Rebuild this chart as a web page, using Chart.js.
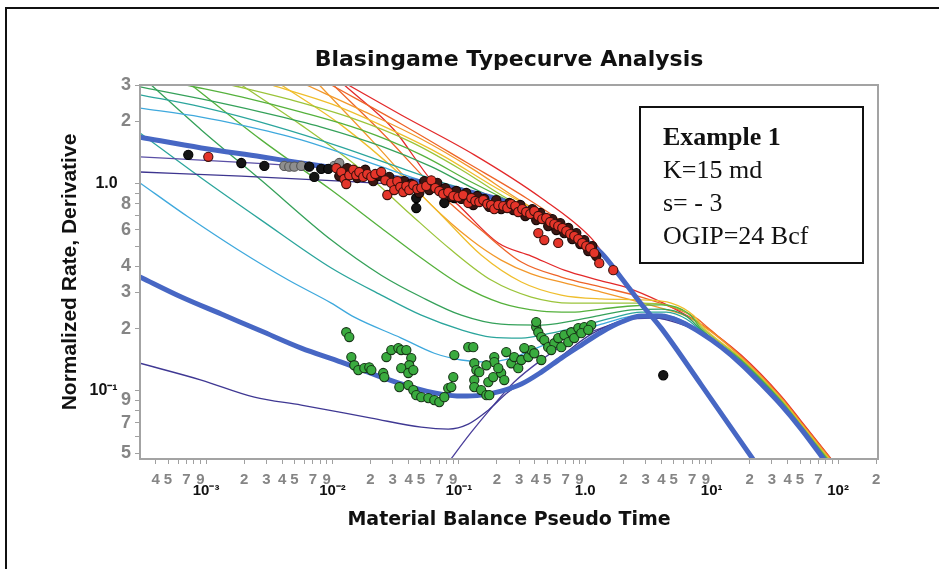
<!DOCTYPE html>
<html>
<head>
<meta charset="utf-8">
<title>Blasingame Typecurve Analysis</title>
<script src="https://cdn.jsdelivr.net/npm/chart.js@4.4.0/dist/chart.umd.min.js"></script>
<style>
    html, body { margin: 0; padding: 0; background: #fff; }
    #wrap { position: relative; width: 939px; height: 569px; overflow: hidden; }
    #frame { position: absolute; left: 5px; top: 7px; right: -10px; bottom: -10px;
             border-top: 2px solid #111; border-left: 2px solid #111; pointer-events: none; }
    canvas { position: absolute; left: 0; top: 0; }
</style>
</head>
<body>
<div id="wrap">
    <canvas id="typecurveChart" width="939" height="569"></canvas>
    <div id="frame"></div>
</div>
<script>
// Axis ticks
const xTickValues = [4e-4, 5e-4, 6e-4, 7e-4, 8e-4, 9e-4, 1e-3, 2e-3, 3e-3, 4e-3, 5e-3, 6e-3, 7e-3, 8e-3, 9e-3,
    1e-2, 0.02, 0.03, 0.04, 0.05, 0.06, 0.07, 0.08, 0.09, 0.1, 0.2, 0.3, 0.4, 0.5, 0.6, 0.7, 0.8, 0.9,
    1, 2, 3, 4, 5, 6, 7, 8, 9, 10, 20, 30, 40, 50, 60, 70, 80, 90, 100, 200];
const xTickLabels = ['4', '5', '', '7', '', '9', '10⁻³', '2', '3', '4', '5', '', '7', '', '9',
    '10⁻²', '2', '3', '4', '5', '', '7', '', '9', '10⁻¹', '2', '3', '4', '5', '', '7', '', '9',
    '1.0', '2', '3', '4', '5', '', '7', '', '9', '10¹', '2', '3', '4', '5', '', '7', '', '', '10²', '2'];
const yTickValues = [0.05, 0.06, 0.07, 0.08, 0.09, 0.1, 0.2, 0.3, 0.4, 0.5, 0.6, 0.7, 0.8, 0.9, 1, 2, 3];
const yTickLabels = ['5', '', '7', '', '9', '10⁻¹', '2', '3', '4', '', '6', '', '8', '', '1.0', '2', '3'];

const noteLines = ['Example 1', 'K=15 md', 's= - 3', 'OGIP=24 Bcf'];

// Fitted typecurves (thick blue)
const fitRate = [[3.0e-4, 1.68], [9.16e-4, 1.49], [2.73e-3, 1.35], [5.66e-3, 1.26], [0.01175, 1.18], [0.0243, 1.10],
    [0.0504, 1.02], [0.1045, 0.933], [0.216, 0.835], [0.312, 0.773], [0.449, 0.707], [0.646, 0.632], [0.930, 0.547],
    [1.34, 0.463], [1.93, 0.351], [2.77, 0.263], [3.99, 0.201], [8.27, 0.107], [22.9, 0.0438]];
const fitDeriv = [[3.0e-4, 0.355], [6.37e-4, 0.284], [1.32e-3, 0.235], [2.73e-3, 0.1945], [5.66e-3, 0.161],
    [0.01175, 0.1377], [0.0243, 0.1166], [0.042, 0.1043], [0.0726, 0.0965], [0.1045, 0.0944], [0.150, 0.0954],
    [0.216, 0.0998], [0.312, 0.1079], [0.449, 0.1232], [0.646, 0.144], [0.930, 0.1665], [1.34, 0.192], [1.93, 0.215],
    [2.77, 0.2298], [3.99, 0.2298], [5.75, 0.215], [8.27, 0.190], [11.9, 0.1627], [17.1, 0.1347], [24.7, 0.1079],
    [35.5, 0.0854], [51.1, 0.0654], [82.2, 0.0443]];

// Rate integral curves (upper family)
const intPurpleA = [[3.0e-4, 1.14], [1.9e-3, 1.09], [0.01175, 1.03], [0.0504, 0.976], [0.1045, 0.923], [0.216, 0.835],
    [0.449, 0.707], [0.930, 0.547], [1.34, 0.463]];
const intPurpleB = [[3.0e-4, 1.35], [1.9e-3, 1.27], [6.43e-3, 1.21], [0.0169, 1.14], [0.0504, 1.03], [0.1045, 0.944],
    [0.216, 0.835], [0.449, 0.707], [0.930, 0.547], [1.34, 0.463]];
const intLightBlue = [[3.0e-4, 2.32], [9.16e-4, 2.10], [1.9e-3, 1.92], [5.66e-3, 1.63], [0.01175, 1.41], [0.0243, 1.21],
    [0.0504, 1.04], [0.0871, 0.954], [0.216, 0.835], [0.449, 0.707], [0.930, 0.547], [1.34, 0.463]];
const intTeal = [[3.0e-4, 2.69], [9.16e-4, 2.35], [3.47e-3, 1.90], [0.01175, 1.505], [0.035, 1.19], [0.0726, 1.02],
    [0.1254, 0.923], [0.216, 0.835], [0.449, 0.707], [0.930, 0.547], [1.34, 0.463]];
const intGreen = [[3.0e-4, 2.94], [9.16e-4, 2.57], [2.73e-3, 2.22], [8.15e-3, 1.88], [0.0243, 1.52], [0.0605, 1.21],
    [0.150, 0.913], [0.26, 0.808], [0.449, 0.707], [0.930, 0.547], [1.34, 0.463]];
const intGreen2 = [[6.97e-4, 3.0], [1.9e-3, 2.63], [5.66e-3, 2.22], [0.0169, 1.82], [0.0504, 1.38], [0.1254, 1.02],
    [0.312, 0.773], [0.646, 0.632], [0.930, 0.547], [1.34, 0.463]];
const intYellowGreen = [[1.58e-3, 3.0], [4.72e-3, 2.54], [0.0141, 2.08], [0.042, 1.59], [0.1045, 1.17], [0.237, 0.854],
    [0.449, 0.707], [0.930, 0.547], [1.34, 0.463]];
const intYellow = [[3.28e-3, 3.0], [9.79e-3, 2.43], [0.0292, 1.82], [0.0726, 1.38], [0.180, 0.987], [0.374, 0.764],
    [0.646, 0.632], [0.930, 0.547], [1.34, 0.463]];
const intOrange = [[6.21e-3, 3.0], [0.0169, 2.27], [0.0504, 1.646], [0.1254, 1.19], [0.2845, 0.854], [0.646, 0.625],
    [1.018, 0.524], [1.34, 0.463]];
const intOrangeRed = [[9.79e-3, 3.0], [0.035, 1.945], [0.1144, 1.27], [0.341, 0.854], [0.849, 0.585], [1.34, 0.463]];
const intRed = [[0.01333, 3.0], [0.035, 2.15], [0.1324, 1.38], [0.449, 0.854], [1.115, 0.547], [1.466, 0.438]];

// Rate integral derivative curves (lower family)
const derivPurple = [[3.0e-4, 0.136], [9.16e-4, 0.1128], [2.41e-3, 0.0933], [5.66e-3, 0.0854], [0.0203, 0.0739],
    [0.0504, 0.0668], [0.0824, 0.0654], [0.1187, 0.0691], [0.171, 0.0807], [0.246, 0.0987], [0.374, 0.1153],
    [0.646, 0.1473], [1.115, 0.188], [1.93, 0.2175], [3.04, 0.227], [4.79, 0.2175], [8.27, 0.190], [17.1, 0.1347],
    [35.5, 0.0854], [51.1, 0.0654], [82.2, 0.0443]];
const derivSteep = [[0.0795, 0.0438], [0.1254, 0.0632], [0.180, 0.0826], [0.274, 0.1103], [0.449, 0.141],
    [0.775, 0.176], [1.34, 0.201], [2.11, 0.220], [3.33, 0.2247], [5.75, 0.215], [8.27, 0.190], [17.1, 0.1347],
    [35.5, 0.0854], [51.1, 0.0654], [82.2, 0.0443]];
const derivLightBlue = [[3.0e-4, 1.01], [7.23e-4, 0.691], [1.80e-3, 0.479], [4.47e-3, 0.343], [9.79e-3, 0.2655],
    [0.01488, 0.227], [0.035, 0.180], [0.0639, 0.152], [0.1045, 0.141], [0.165, 0.1377], [0.26, 0.144], [0.449, 0.1646],
    [0.775, 0.188], [1.34, 0.210], [2.31, 0.2298], [3.65, 0.235], [5.75, 0.220], [8.27, 0.192], [17.1, 0.136],
    [35.5, 0.0863], [51.1, 0.0661], [83.6, 0.0443]];
const derivTeal = [[3.0e-4, 1.76], [9.16e-4, 1.067], [2.73e-3, 0.668], [9.79e-3, 0.392], [0.0243, 0.290], [0.0504, 0.232],
    [0.1045, 0.197], [0.180, 0.182], [0.312, 0.180], [0.538, 0.190], [0.930, 0.2056], [1.606, 0.2247], [2.77, 0.240],
    [4.37, 0.240], [6.30, 0.2224], [8.27, 0.1945], [17.1, 0.1377], [35.5, 0.0873], [51.1, 0.0661], [85.2, 0.0443]];
const derivGreen = [[3.68e-4, 3.0], [9.16e-4, 1.82], [2.73e-3, 1.04], [9.79e-3, 0.535], [0.0243, 0.362], [0.0504, 0.284],
    [0.1045, 0.232], [0.216, 0.210], [0.449, 0.208], [0.775, 0.2175], [1.34, 0.232], [2.31, 0.246], [3.99, 0.2485],
    [6.30, 0.2298], [8.27, 0.197], [17.1, 0.139], [35.5, 0.0883], [51.1, 0.0668], [86.8, 0.0443]];
const derivGreen2 = [[7.64e-4, 3.0], [2.73e-3, 1.63], [9.79e-3, 0.933], [0.0243, 0.612], [0.0504, 0.438], [0.1045, 0.324],
    [0.216, 0.2655], [0.449, 0.243], [0.775, 0.240], [1.34, 0.2485], [2.31, 0.257], [3.99, 0.260], [6.65, 0.235],
    [8.27, 0.199], [17.1, 0.141], [35.5, 0.0892], [51.1, 0.0676], [88.3, 0.0443]];
const derivYellowGreen = [[1.9e-3, 3.0], [5.66e-3, 1.92], [0.0169, 1.17], [0.042, 0.707], [0.0871, 0.479], [0.180, 0.343],
    [0.374, 0.284], [0.775, 0.2655], [1.606, 0.2655], [2.77, 0.2655], [4.37, 0.260], [6.90, 0.2298], [8.58, 0.199],
    [17.1, 0.1424], [35.5, 0.0903], [51.1, 0.0684], [90, 0.0443]];
const derivYellow = [[3.94e-3, 3.0], [0.01175, 1.92], [0.035, 1.10], [0.0726, 0.707], [0.150, 0.453], [0.312, 0.3355],
    [0.646, 0.290], [1.34, 0.278], [2.77, 0.275], [4.79, 0.2655], [7.15, 0.232], [8.74, 0.201], [17.1, 0.144],
    [35.5, 0.0913], [51.1, 0.0691], [91.6, 0.0443]];
const derivOrange = [[7.87e-3, 3.0], [0.0203, 1.63], [0.0605, 0.790], [0.1254, 0.535], [0.216, 0.428], [0.374, 0.367],
    [0.682, 0.332], [1.34, 0.300], [2.31, 0.275], [3.99, 0.251], [6.30, 0.2298], [9.06, 0.201], [17.1, 0.1457],
    [35.5, 0.0923], [51.1, 0.0699], [93.3, 0.0443]];
const derivOrangeRed = [[0.01015, 3.0], [0.0257, 1.72], [0.0726, 0.883], [0.150, 0.598], [0.312, 0.419], [0.646, 0.3547],
    [1.34, 0.3173], [2.77, 0.284], [4.79, 0.254], [7.55, 0.2247], [9.40, 0.201], [17.1, 0.1473], [35.5, 0.0933],
    [51.1, 0.0707], [95, 0.0443]];
const derivRed = [[0.0124, 3.0], [0.0308, 1.82], [0.0605, 1.04], [0.0989, 0.790], [0.205, 0.518], [0.374, 0.448],
    [0.682, 0.383], [1.267, 0.343], [2.19, 0.3137], [3.99, 0.2685], [6.30, 0.232], [8.27, 0.210], [17.1, 0.149],
    [35.5, 0.0944], [51.1, 0.0715], [95, 0.0443]];

// Well data: normalized rate (red / dark / black / grey) and derivative (green)
const rateRed = [[1.041e-3, 1.35], [0.01072, 1.19], [0.01175, 1.14], [0.0124, 1.055], [0.01285, 0.998], [0.01358, 1.10],
    [0.0146, 1.17], [0.01542, 1.10], [0.0163, 1.14], [0.01752, 1.08], [0.01885, 1.115], [0.0203, 1.08], [0.0218, 1.115],
    [0.0243, 1.14], [0.02617, 1.04], [0.02714, 0.883], [0.0292, 1.01], [0.0308, 0.933], [0.03257, 1.03],
    [0.03439, 0.965], [0.0363, 0.913], [0.0384, 0.976], [0.0405, 0.933], [0.0436, 0.987], [0.0469, 0.944],
    [0.0504, 0.954], [0.0552, 0.976], [0.0605, 1.04], [0.0651, 0.954], [0.070, 0.923], [0.0752, 0.893], [0.0824, 0.913],
    [0.0903, 0.873], [0.0989, 0.863], [0.1083, 0.883], [0.1187, 0.808], [0.1254, 0.854], [0.1348, 0.826], [0.145, 0.817],
    [0.156, 0.835], [0.1678, 0.799], [0.180, 0.790], [0.1906, 0.755], [0.205, 0.790], [0.2245, 0.781], [0.2415, 0.764],
    [0.26, 0.799], [0.2794, 0.781], [0.295, 0.731], [0.3174, 0.755], [0.341, 0.731], [0.3671, 0.715], [0.395, 0.739],
    [0.425, 0.699], [0.4569, 0.676], [0.491, 0.684], [0.5285, 0.654], [0.569, 0.639], [0.611, 0.625], [0.658, 0.612],
    [0.708, 0.5915], [0.7607, 0.572], [0.818, 0.56], [0.881, 0.541], [0.9468, 0.518], [1.018, 0.5005], [1.095, 0.490],
    [1.178, 0.463], [1.29, 0.414], [1.665, 0.383], [0.425, 0.578], [0.474, 0.535], [0.611, 0.518]];
const rateDark = [[0.01132, 1.09], [0.0131, 1.19], [0.01571, 1.067], [0.01817, 1.17], [0.02102, 1.03], [0.02346, 1.09],
    [0.02814, 1.08], [0.03197, 0.976], [0.037, 1.03], [0.042, 0.998], [0.04861, 0.903], [0.05324, 1.03],
    [0.05832, 0.933], [0.06746, 1.01], [0.07804, 0.954], [0.0871, 0.863], [0.0953, 0.923], [0.1045, 0.845],
    [0.1144, 0.903], [0.130, 0.790], [0.1398, 0.873], [0.1589, 0.845], [0.174, 0.773], [0.1976, 0.835], [0.216, 0.755],
    [0.2504, 0.808], [0.2694, 0.747], [0.306, 0.790], [0.3351, 0.699], [0.3808, 0.755], [0.409, 0.668], [0.4406, 0.723],
    [0.509, 0.625], [0.5483, 0.676], [0.590, 0.598], [0.6343, 0.6464], [0.682, 0.578], [0.734, 0.612], [0.789, 0.541],
    [0.849, 0.578], [0.913, 0.512], [0.982, 0.535], [1.056, 0.4735], [1.136, 0.5005], [1.222, 0.448]];
const rateBlack = [[7.23e-4, 1.38], [1.9e-3, 1.26], [2.89e-3, 1.22], [6.55e-3, 1.21], [7.18e-3, 1.08], [8.15e-3, 1.18],
    [9.26e-3, 1.18], [0.046, 0.854], [0.046, 0.764], [0.0767, 0.808], [0.092, 0.854], [4.14, 0.119]];
const rateGrey = [[4.16e-3, 1.22], [4.55e-3, 1.21], [4.99e-3, 1.21], [5.66e-3, 1.22], [0.01033, 1.22], [0.01132, 1.26]];
const derivGreenData = [[0.01285, 0.192], [0.01358, 0.182], [0.0141, 0.1457], [0.01488, 0.133], [0.016, 0.126],
    [0.01786, 0.1288], [0.01955, 0.130], [0.0203, 0.126], [0.0252, 0.122], [0.0257, 0.1166], [0.0267, 0.1457],
    [0.0292, 0.1575], [0.0332, 0.161], [0.035, 0.1575], [0.0384, 0.1575], [0.042, 0.144], [0.0405, 0.133],
    [0.035, 0.1288], [0.0398, 0.122], [0.0436, 0.126], [0.0338, 0.1043], [0.0398, 0.1067], [0.0436, 0.1009],
    [0.046, 0.0954], [0.0504, 0.0933], [0.0573, 0.0923], [0.0639, 0.0903], [0.070, 0.0883], [0.0767, 0.0933],
    [0.0824, 0.1031], [0.0871, 0.1043], [0.0903, 0.1166], [0.092, 0.149], [0.1187, 0.1627], [0.130, 0.1627],
    [0.1324, 0.136], [0.1374, 0.126], [0.1324, 0.1128], [0.1324, 0.1043], [0.150, 0.1009], [0.165, 0.0954],
    [0.174, 0.0954], [0.171, 0.1103], [0.187, 0.1166], [0.1906, 0.1457], [0.1906, 0.1377], [0.216, 0.122],
    [0.2286, 0.1128], [0.26, 0.136], [0.274, 0.1457], [0.295, 0.1288], [0.312, 0.141], [0.354, 0.1457], [0.374, 0.1575],
    [0.409, 0.2033], [0.425, 0.192], [0.449, 0.182], [0.474, 0.176], [0.509, 0.1627], [0.569, 0.170], [0.611, 0.180],
    [0.682, 0.186], [0.775, 0.192], [0.881, 0.201], [0.982, 0.2033], [1.115, 0.208], [0.395, 0.152], [0.449, 0.141],
    [0.538, 0.1575], [0.646, 0.1627], [0.734, 0.172], [0.818, 0.180], [0.930, 0.190], [1.056, 0.197], [0.145, 0.1232],
    [0.165, 0.133], [0.205, 0.1288], [0.237, 0.154], [0.3292, 0.161], [0.409, 0.215]];

// Helpers
function toPoints(pairs) {
    return pairs.map(p => ({ x: p[0], y: p[1] }));
}

function isDecade(v) {
    const l = Math.log10(v);
    return Math.abs(l - Math.round(l)) < 1e-6;
}

function labelFor(values, labels, v) {
    const i = values.findIndex(t => Math.abs(t - v) / t < 1e-6);
    return i < 0 ? '' : labels[i];
}

function curve(pairs, color, width, order) {
    return {
        data: toPoints(pairs),
        showLine: true,
        borderColor: color,
        borderWidth: width,
        pointRadius: 0,
        cubicInterpolationMode: 'monotone',
        fill: false,
        order: order
    };
}

function dots(pairs, fill, edge) {
    return {
        data: toPoints(pairs),
        showLine: false,
        pointRadius: 4.6,
        pointBackgroundColor: fill,
        pointBorderColor: edge,
        pointBorderWidth: 1.1,
        order: 0
    };
}

const tickFont = "'Liberation Sans', Arial, sans-serif";
const headFont = "'DejaVu Sans', sans-serif";

// Frame round the plot and the note box
const decorPlugin = {
    id: 'decor',
    afterDraw(chart) {
        const { ctx, chartArea: a } = chart;
        ctx.save();
        ctx.strokeStyle = '#a3a3a3';
        ctx.lineWidth = 2;
        ctx.strokeRect(a.left, a.top, a.right - a.left, a.bottom - a.top);

        const bx = a.right - 238, by = a.top + 22, bw = 223, bh = 156;
        ctx.fillStyle = '#fff';
        ctx.fillRect(bx, by, bw, bh);
        ctx.strokeStyle = '#111';
        ctx.lineWidth = 2;
        ctx.strokeRect(bx, by, bw, bh);

        ctx.fillStyle = '#111';
        ctx.textAlign = 'left';
        ctx.textBaseline = 'alphabetic';
        noteLines.forEach((t, i) => {
            ctx.font = (i === 0 ? 'bold ' : '') + '26px "Liberation Serif", "Times New Roman", serif';
            ctx.fillText(t, bx + 23, by + 38 + i * 33);
        });
        ctx.restore();
    }
};

document.addEventListener('DOMContentLoaded', function () {
    const ctx = document.getElementById('typecurveChart').getContext('2d');
    new Chart(ctx, {
        type: 'scatter',
        data: {
            datasets: [
                dots(rateRed, '#e5352a', '#3a100c'),
                dots(rateDark, '#3b1713', '#120504'),
                dots(rateBlack, '#151515', '#000'),
                dots(rateGrey, '#8e8e8e', '#555'),
                dots(derivGreenData, '#3aab3f', '#173517'),
                curve(fitRate, '#4767c4', 5, 1),
                curve(fitDeriv, '#4767c4', 5, 1),
                curve(intPurpleA, '#3d358f', 1.3, 2),
                curve(intPurpleB, '#5a4fa6', 1.3, 2),
                curve(intLightBlue, '#3fa9dd', 1.3, 2),
                curve(intTeal, '#2ba59c', 1.3, 2),
                curve(intGreen, '#35a15a', 1.3, 2),
                curve(intGreen2, '#55b13c', 1.3, 2),
                curve(intYellowGreen, '#9bc43a', 1.3, 2),
                curve(intYellow, '#efbe2c', 1.3, 2),
                curve(intOrange, '#f2982a', 1.3, 2),
                curve(intOrangeRed, '#ee6428', 1.3, 2),
                curve(intRed, '#e3292a', 1.3, 2),
                curve(derivPurple, '#3f3893', 1.3, 2),
                curve(derivSteep, '#4b3f9b', 1.3, 2),
                curve(derivLightBlue, '#3fa9dd', 1.3, 2),
                curve(derivTeal, '#2ba59c', 1.3, 2),
                curve(derivGreen, '#35a15a', 1.3, 2),
                curve(derivGreen2, '#55b13c', 1.3, 2),
                curve(derivYellowGreen, '#9bc43a', 1.3, 2),
                curve(derivYellow, '#efbe2c', 1.3, 2),
                curve(derivOrange, '#f2982a', 1.3, 2),
                curve(derivOrangeRed, '#ee6428', 1.3, 2),
                curve(derivRed, '#e3292a', 1.3, 2)
            ]
        },
        options: {
            responsive: false,
            animation: false,
            events: [],
            layout: { padding: { left: 0, right: 61, top: 0, bottom: 0 } },
            plugins: {
                legend: { display: false },
                tooltip: { enabled: false },
                title: {
                    display: true,
                    text: 'Blasingame Typecurve Analysis',
                    fullSize: false,
                    color: '#111',
                    font: { family: headFont, size: 22, weight: 'bold', lineHeight: 1.2 },
                    padding: { top: 46.6, bottom: 12 }
                }
            },
            scales: {
                x: {
                    type: 'logarithmic',
                    min: 3.0e-4,
                    max: 207,
                    afterBuildTicks: axis => { axis.ticks = xTickValues.map(v => ({ value: v })); },
                    afterFit: axis => { axis.height = 110; },
                    border: { display: false },
                    grid: { display: true, drawOnChartArea: false, drawTicks: true, tickLength: 5, tickColor: '#a0a0a0' },
                    ticks: {
                        autoSkip: false,
                        maxRotation: 0,
                        minRotation: 0,
                        padding: 7,
                        callback: function (value) {
                            const t = labelFor(xTickValues, xTickLabels, value);
                            return isDecade(value) ? ['', t] : t;
                        },
                        color: c => (c.tick && isDecade(c.tick.value)) ? '#111' : '#858585',
                        font: c => (c.tick && isDecade(c.tick.value))
                            ? { family: tickFont, size: 15, weight: 'bold', lineHeight: 0.9 }
                            : { family: tickFont, size: 15, weight: 'bold', lineHeight: 1.2 }
                    },
                    title: {
                        display: true,
                        text: 'Material Balance Pseudo Time',
                        color: '#111',
                        font: { family: headFont, size: 19, weight: 'bold', lineHeight: 1.2 },
                        padding: { top: 0, bottom: 37.6 }
                    }
                },
                y: {
                    type: 'logarithmic',
                    min: 0.0469,
                    max: 3.0,
                    afterBuildTicks: axis => { axis.ticks = yTickValues.map(v => ({ value: v })); },
                    afterFit: axis => { axis.width = 140; },
                    border: { display: false },
                    grid: { display: true, drawOnChartArea: false, drawTicks: true, tickLength: 5, tickColor: '#a0a0a0' },
                    ticks: {
                        autoSkip: false,
                        padding: 4,
                        callback: function (value) {
                            const t = labelFor(yTickValues, yTickLabels, value);
                            return isDecade(value) ? t + '   ' : t;
                        },
                        color: c => (c.tick && isDecade(c.tick.value)) ? '#111' : '#858585',
                        font: c => (c.tick && isDecade(c.tick.value))
                            ? { family: tickFont, size: 16, weight: 'bold' }
                            : { family: tickFont, size: 18, weight: 'bold' }
                    },
                    title: {
                        display: true,
                        text: 'Normalized Rate, Derivative',
                        color: '#111',
                        font: { family: tickFont, size: 21, weight: 'bold', lineHeight: 1.2 },
                        padding: { top: 57.4, bottom: 0 }
                    }
                }
            }
        },
        plugins: [decorPlugin]
    });
});
</script>
</body>
</html>
